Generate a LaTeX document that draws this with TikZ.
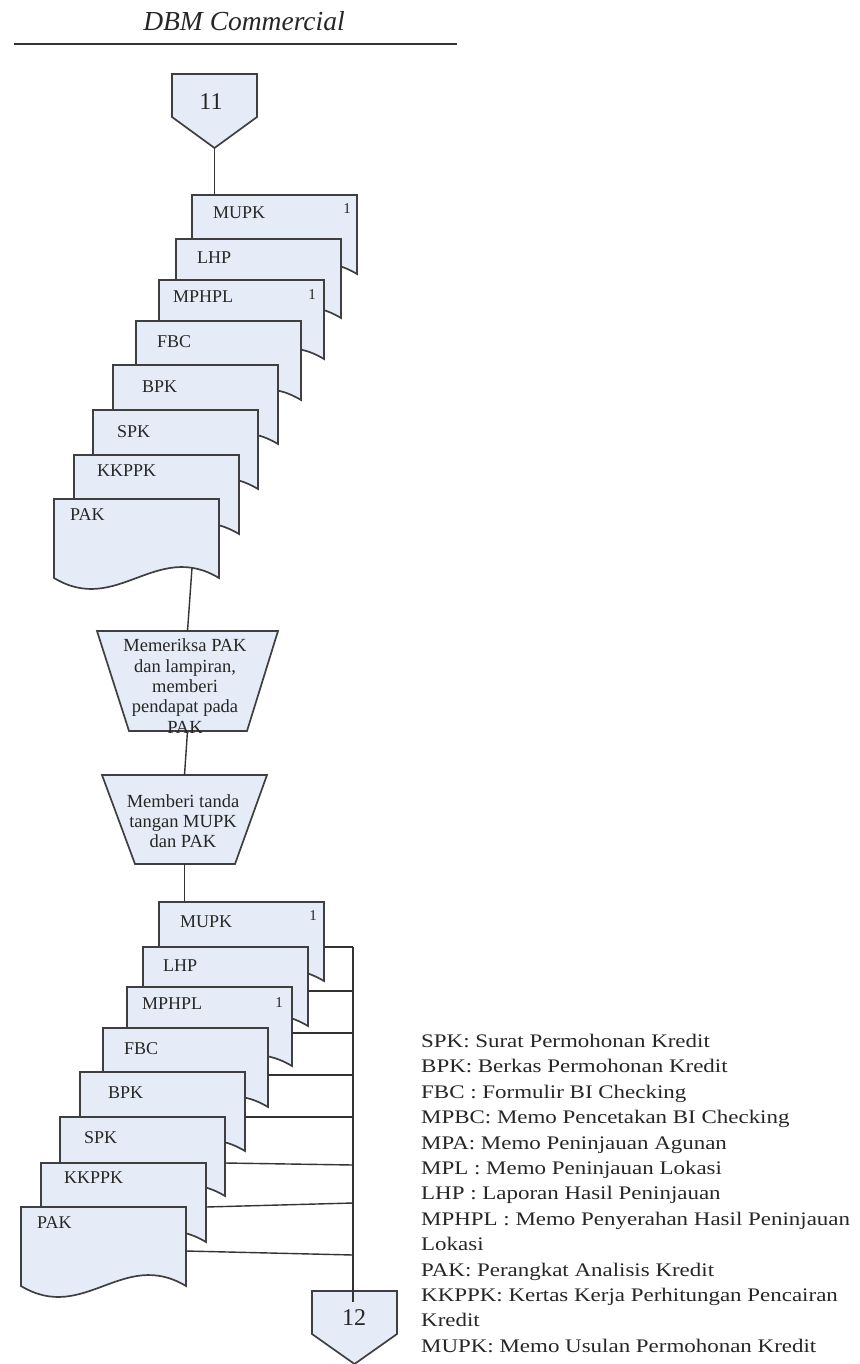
\documentclass[tikz,border=0pt]{standalone}
\usepackage{fontspec}
\setmainfont{Liberation Serif}
\newfontfamily\legendfont[FakeStretch=1.195]{Liberation Serif}
\usetikzlibrary{calc}

\definecolor{sheetfill}{HTML}{E6ECF7}
\definecolor{edge}{HTML}{3F3F3F}
\definecolor{wire}{HTML}{333333}

\tikzset{
  shapeline/.style={draw=edge, line width=1.7pt, fill=sheetfill, line join=miter},
  holder/.style={inner sep=0pt, outer sep=0pt, draw=none},
  docbox/.style={holder, minimum width=165pt, minimum height=79pt, anchor=north west},
  doclabel/.style={inner sep=0pt, anchor=west, font=\fontsize{18}{20}\selectfont, text=black!85},
  markfont/.style={inner sep=0pt, font=\fontsize{15}{16}\selectfont, text=black!85},
  proctext/.style={inner sep=0pt, align=center, font=\fontsize{18.5}{20.3}\selectfont, text=black!85},
  pagenum/.style={inner sep=0pt, font=\fontsize{24}{24}\selectfont, text=black!85},
  wireline/.style={draw=wire, line width=1.4pt},
}

% document sheet with a wavy lower edge: name, x, y, label, label dx, label dy
\newcommand{\docsheet}[6]{%
  \node[docbox] (#1) at (#2,#3) {};
  \draw[shapeline] (#1.north west) -- (#1.north east) -- (#1.south east)
    .. controls ($(#1.south east)+(-63,-38)$) and ($(#1.south west)+(63,38)$) .. (#1.south west) -- cycle;
  \node[doclabel] (#1-label) at ($(#1.north west)+(#5,#6)$) {#4};
}
% copy number in the upper right corner of a sheet: name, dx from right, dy
\newcommand{\sheetmark}[3]{%
  \node[markfont] (#1-mark) at ($(#1.north east)+(-#2,#3)$) {1};
}

\begin{document}
\begin{tikzpicture}[x=1pt,y=-1pt]
\useasboundingbox (0,0) rectangle (859,1364);

% heading
\node[inner sep=0pt, font=\itshape\fontsize{27.5}{29}\selectfont, text=black!85] (title) at (244,21) {DBM Commercial};
\coordinate (ruleL) at (14,44);
\coordinate (ruleR) at (457,44);
\draw[line width=2pt, draw=black!80] (ruleL) -- (ruleR);

% off-page connector 11
\node[holder, minimum width=85pt, minimum height=74pt] (c11) at (214.5,111) {};
\draw[shapeline] (c11.north west) -- (c11.north east) -- ($(c11.north east)+(0,43)$)
  -- (c11.south) -- ($(c11.north west)+(0,43)$) -- cycle;
\node[pagenum] (c11-num) at (211,102) {11};

% upper stack of documents
\docsheet{mupkU}{192}{195}{MUPK}{21}{18}
\sheetmark{mupkU}{10}{14}
\docsheet{lhpU}{176}{239}{LHP}{21}{19}
\docsheet{mphplU}{159}{280}{MPHPL}{14}{17}
\sheetmark{mphplU}{12}{15}
\docsheet{fbcU}{136}{321}{FBC}{21}{21}
\docsheet{bpkU}{113}{365}{BPK}{29}{22}
\docsheet{spkU}{93}{410}{SPK}{24}{22}
\docsheet{kkppkU}{74}{455}{KKPPK}{23}{16}
\docsheet{pakU}{54}{499}{PAK}{16}{16}

% manual operations
\node[holder, minimum width=181pt, minimum height=100pt] (t1) at (187.5,681) {};
\draw[shapeline] (t1.north west) -- (t1.north east) -- ($(t1.south east)+(-31,0)$)
  -- ($(t1.south west)+(32,0)$) -- cycle;
\node[proctext] (t1-text) at (185,686) {Memeriksa PAK\\dan lampiran,\\memberi\\pendapat pada\\PAK};

\node[holder, minimum width=165pt, minimum height=89pt] (t2) at (184.5,819.5) {};
\draw[shapeline] (t2.north west) -- (t2.north east) -- ($(t2.south east)+(-32,0)$)
  -- ($(t2.south west)+(33,0)$) -- cycle;
\node[proctext] (t2-text) at (183,821) {Memberi tanda\\tangan MUPK\\dan PAK};

% lower stack of documents
\docsheet{mupkL}{159}{902}{MUPK}{21}{20}
\sheetmark{mupkL}{11}{14}
\docsheet{lhpL}{143}{947}{LHP}{20}{19}
\docsheet{mphplL}{127}{987}{MPHPL}{15}{17}
\sheetmark{mphplL}{13}{16}
\docsheet{fbcL}{103}{1028}{FBC}{21}{21}
\docsheet{bpkL}{80}{1072}{BPK}{28}{21}
\docsheet{spkL}{60}{1117}{SPK}{24}{21}
\docsheet{kkppkL}{41}{1163}{KKPPK}{23}{15}
\docsheet{pakL}{21}{1207}{PAK}{16}{16}

% off-page connector 12
\node[holder, minimum width=85pt, minimum height=73pt] (c12) at (354.5,1327.5) {};
\draw[shapeline] (c12.north west) -- (c12.north east) -- ($(c12.north east)+(0,43)$)
  -- (c12.south) -- ($(c12.north west)+(0,43)$) -- cycle;
\node[pagenum] (c12-num) at (354,1318) {12};

% flow lines
\coordinate (pakU-out) at ($(pakU.south west)+(138,-10)$);
\draw[wireline] (c11.south) -- (c11.south |- mupkU.north);
\draw[wireline] (pakU-out) -- (t1.north);
\draw[wireline] (t1.south) -- (t2.north);
\draw[wireline] (t2.south) -- (t2.south |- mupkL.north);

% collecting line down to connector 12
\coordinate (j1) at (353,947);
\coordinate (j2) at (353,991);
\coordinate (j3) at (353,1033);
\coordinate (j4) at (353,1075);
\coordinate (j5) at (353,1117);
\coordinate (j6) at (353,1165);
\coordinate (j7) at (353,1203);
\coordinate (j8) at (353,1255);
\coordinate (busEnd) at ($(c12.north)+(-1.5,11)$);
\draw[wireline] ($(mupkL.north east)+(0,45)$) -- (j1);
\draw[wireline] ($(lhpL.north east)+(0,44)$) -- (j2);
\draw[wireline] ($(mphplL.north east)+(0,46)$) -- (j3);
\draw[wireline] ($(fbcL.north east)+(0,47)$) -- (j4);
\draw[wireline] ($(bpkL.north east)+(0,45)$) -- (j5);
\draw[wireline] ($(spkL.north east)+(0,46)$) -- (j6);
\draw[wireline] ($(kkppkL.north east)+(0,44)$) -- (j7);
\draw[wireline] ($(pakL.north east)+(0,44)$) -- (j8);
\draw[wireline] (j1) -- (busEnd);

% abbreviations
\node[anchor=north west, inner sep=0pt, align=left, text=black!85,
      font=\legendfont\fontsize{19.2}{25.4}\selectfont] (legend) at (421,1034)
{SPK: Surat Permohonan Kredit\\
BPK: Berkas Permohonan Kredit\\
FBC : Formulir BI Checking\\
MPBC: Memo Pencetakan BI Checking\\
MPA: Memo Peninjauan Agunan\\
MPL : Memo Peninjauan Lokasi\\
LHP : Laporan Hasil Peninjauan\\
MPHPL : Memo Penyerahan Hasil Peninjauan\\
Lokasi\\
PAK: Perangkat Analisis Kredit\\
KKPPK: Kertas Kerja Perhitungan Pencairan\\
Kredit\\
MUPK: Memo Usulan Permohonan Kredit};
\end{tikzpicture}
\end{document}
